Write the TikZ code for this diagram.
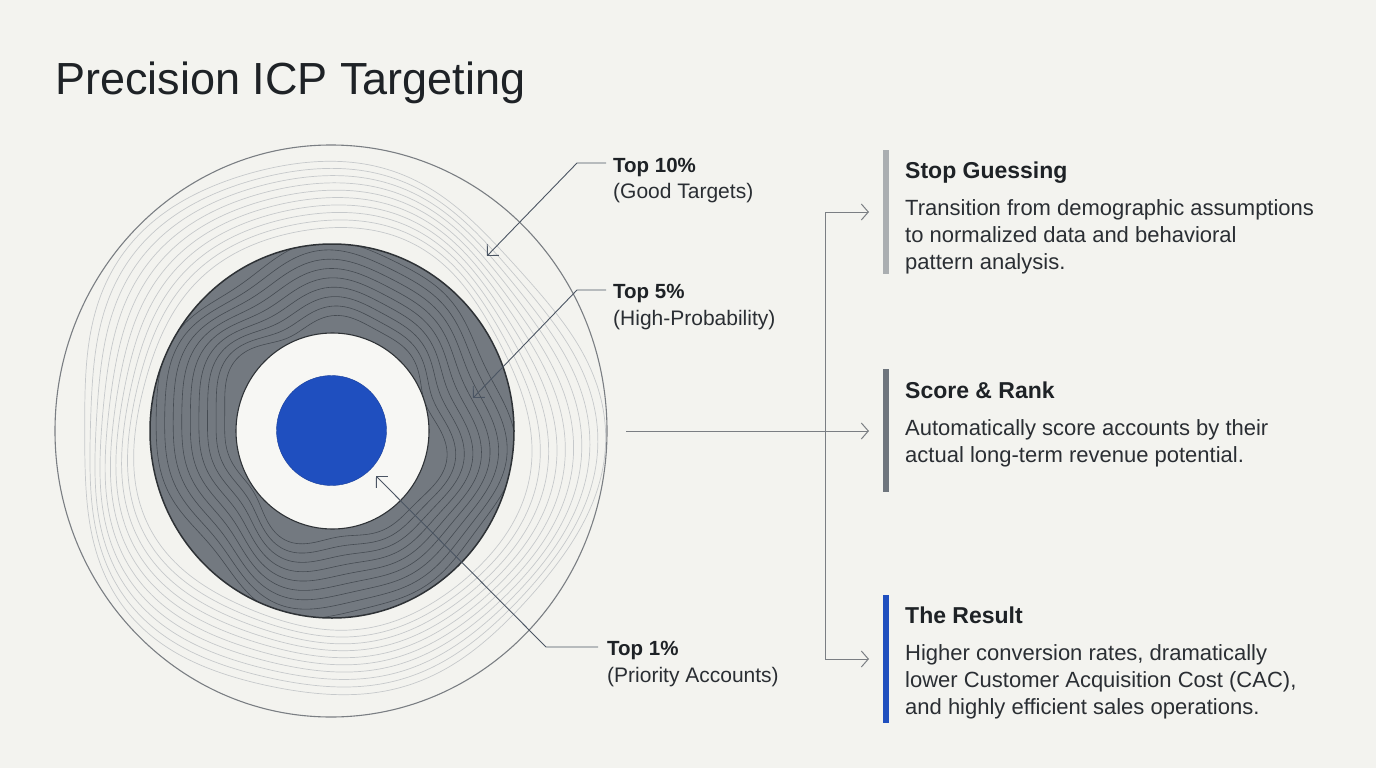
\documentclass[tikz,border=0pt]{standalone}
\usepackage{fontspec}
\setmainfont{Liberation Sans}
\usetikzlibrary{arrows.meta,shapes.geometric}
\definecolor{bg}{HTML}{F3F3EF}
\definecolor{ink}{HTML}{1E2226}
\definecolor{body}{HTML}{2A2E33}
\definecolor{outc}{HTML}{C6C9CB}
\definecolor{ringfill}{HTML}{737980}
\definecolor{ringedge}{HTML}{2E3236}
\definecolor{ringc}{HTML}{454B52}
\definecolor{innerw}{HTML}{F7F7F4}
\definecolor{blueacc}{HTML}{1F4FBF}
\definecolor{lead}{HTML}{4B5563}
\definecolor{conn}{HTML}{7A7E83}
\definecolor{barlight}{HTML}{AAAEB1}
\definecolor{barmid}{HTML}{6E757D}
\tikzset{
  leader/.style={draw=lead, line width=0.9pt, -{Straight Barb[length=8pt,width=16pt]}},
  connector/.style={draw=conn, line width=1pt},
  connarrow/.style={connector, -{Straight Barb[length=7pt,width=16pt]}},
  lab/.style={inner sep=0pt, anchor=base west, text=ink, font=\fontsize{20.5}{24}\selectfont\bfseries},
  sublab/.style={inner sep=0pt, anchor=base west, text=body, font=\fontsize{21}{24}\selectfont},
  head/.style={inner sep=0pt, anchor=base west, text=ink, font=\fontsize{23}{28}\selectfont\bfseries},
  bodytext/.style={inner sep=0pt, anchor=north west, align=left, text=body, font=\fontsize{22}{27}\selectfont},
  bar/.style={inner sep=0pt, minimum width=6pt, anchor=north west},
}
\begin{document}
\begin{tikzpicture}[x=1pt,y=-1pt]
\useasboundingbox (0,0) rectangle (1376,768);
\fill[bg] (0,0) rectangle (1376,768);

% title
\node[inner sep=0pt, anchor=base west, text=ink, font=\fontsize{45}{50}\selectfont] (title) at (55,94) {Precision ICP Targeting};

% outer band with contours
\begin{scope}
  \clip (331,431) ellipse [x radius=276pt, y radius=286pt];
  \foreach \i in {0,...,9}{
    \pgfmathsetmacro{\amp}{0.45+0.045*\i}
    \draw[outc, line width=0.7pt] plot[domain=0:357, samples=120, smooth cycle]
      ({331+(196+7*\i+\amp*(10*sin(3*\x+8*\i)+7*sin(5*\x+40+6*\i)+4*sin(2*\x+70-5*\i)))*cos(\x)},
       {431+1.035*(196+7*\i+\amp*(10*sin(3*\x+8*\i)+7*sin(5*\x+40+6*\i)+4*sin(2*\x+70-5*\i)))*sin(\x)});
  }
\end{scope}
\node[draw=conn, line width=1.1pt, ellipse, minimum width=552pt, minimum height=572pt, inner sep=0pt] (outer) at (331,431) {};

% gray ring
\fill[ringfill] (332,431) ellipse [x radius=182pt, y radius=187pt];
\begin{scope}
  \clip (332,431) ellipse [x radius=182pt, y radius=187pt];
  \foreach \i in {0,...,8}{
    \draw[ringc, line width=0.6pt] plot[domain=0:357, samples=120, smooth cycle]
      ({332+(108+8.5*\i+6*sin(4*\x+6*\i)+4*sin(7*\x+10+5*\i)+3*sin(2*\x-4*\i))*cos(\x)},
       {431+1.03*(108+8.5*\i+6*sin(4*\x+6*\i)+4*sin(7*\x+10+5*\i)+3*sin(2*\x-4*\i))*sin(\x)});
  }
\end{scope}
\draw[ringedge, line width=1.5pt] (332,431) ellipse [x radius=182pt, y radius=187pt];
\node[draw=ringedge, fill=innerw, line width=1.1pt, ellipse, minimum width=193pt, minimum height=196pt, inner sep=0pt] (inner) at (332.5,431) {};
\node[fill=blueacc, draw=blueacc!80!black, line width=0.4pt, circle, minimum size=110pt, inner sep=0pt] (core) at (331.5,430.5) {};

% labels
\node[lab] (l10) at (613,172) {Top 10\%};
\node[sublab] (l10s) at (613,198) {(Good Targets)};
\node[lab] (l5) at (613,298) {Top 5\%};
\node[sublab] (l5s) at (613,325) {(High-Probability)};
\node[lab] (l1) at (607,655) {Top 1\%};
\node[sublab] (l1s) at (607,682) {(Priority Accounts)};

\coordinate (a10s) at (606,163);
\coordinate (a10k) at (577,163);
\coordinate (a10t) at (487,256);
\coordinate (a5s) at (606,290);
\coordinate (a5k) at (577,290);
\coordinate (a5t) at (473,398);
\coordinate (a1s) at (598,647);
\coordinate (a1k) at (546,647);
\coordinate (a1t) at (376,476);
\draw[leader] (a10s) -- (a10k) -- (a10t);
\draw[leader] (a5s) -- (a5k) -- (a5t);
\draw[leader] (a1s) -- (a1k) -- (a1t);

% right side bars
\node[bar, fill=barlight, minimum height=124pt] (bar1) at (883,150) {};
\node[bar, fill=barmid, minimum height=123pt] (bar2) at (883,369) {};
\node[bar, fill=blueacc, minimum height=128pt] (bar3) at (883,595) {};

% connectors
\coordinate (cs) at (626,431);
\coordinate (vtop) at (825,212);
\coordinate (vbot) at (825,659);
\coordinate (e1) at (869,212);
\coordinate (e2) at (869,431);
\coordinate (e3) at (869,659);
\draw[connector] (vtop) -- (vbot);
\draw[connarrow] (cs) -- (e2);
\draw[connarrow] (vtop) -- (e1);
\draw[connarrow] (vbot) -- (e3);

% text blocks
\node[head] (h1) at (905,178) {Stop Guessing};
\node[bodytext] (b1) at (905,199) {Transition from demographic assumptions\\to normalized data and behavioral\\pattern analysis.};
\node[head] (h2) at (905,398) {Score \& Rank};
\node[bodytext] (b2) at (905,419) {Automatically score accounts by their\\actual long-term revenue potential.};
\node[head] (h3) at (905,623) {The Result};
\node[bodytext] (b3) at (905,644) {Higher conversion rates, dramatically\\lower Customer Acquisition Cost (CAC),\\and highly efficient sales operations.};
\end{tikzpicture}
\end{document}
